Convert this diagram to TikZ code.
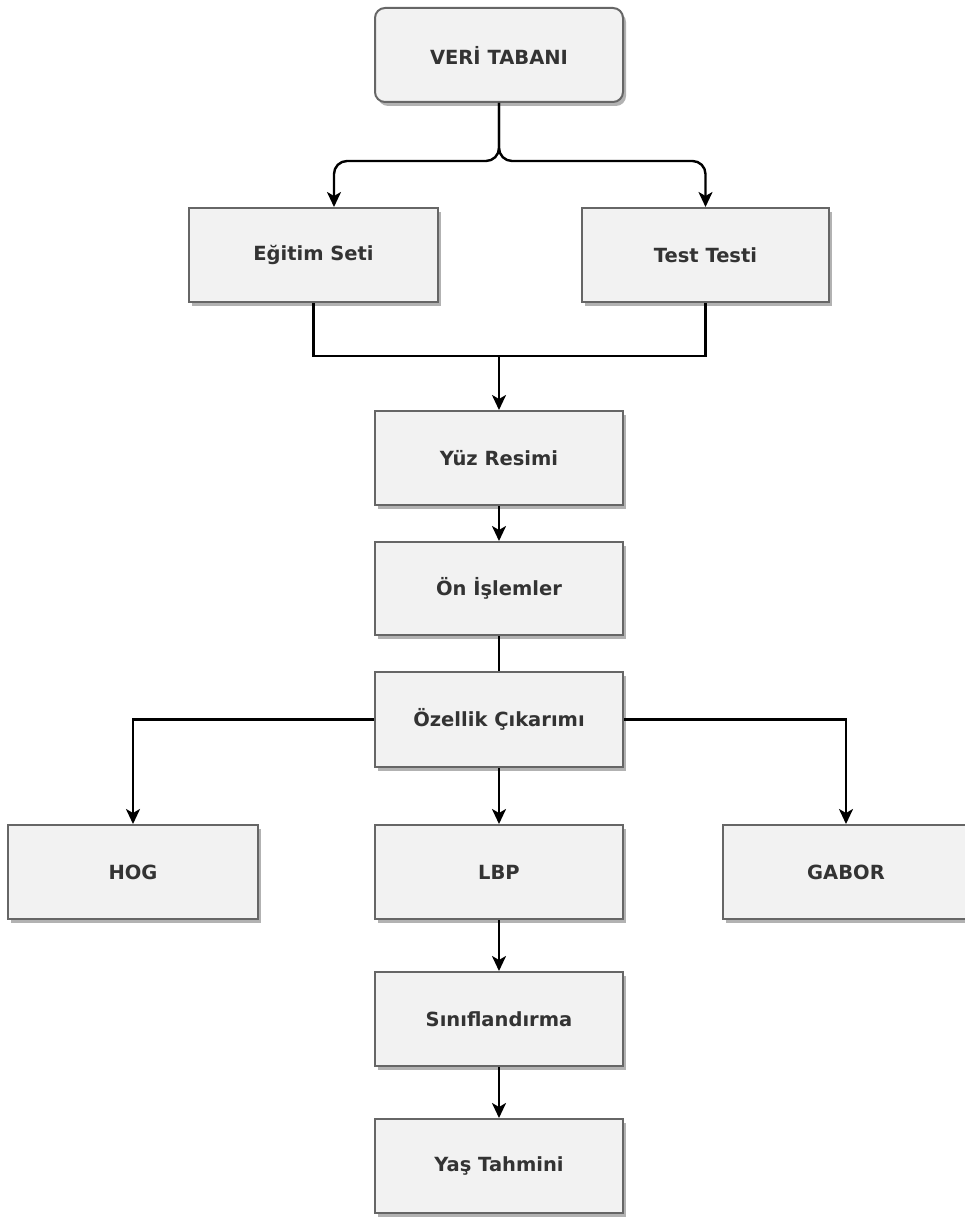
\documentclass[tikz,border=0pt]{standalone}
\usepackage{fontspec}
\setmainfont{DejaVu Sans}
\usetikzlibrary{arrows.meta,shadows}
\definecolor{boxfill}{HTML}{F2F2F2}
\definecolor{boxline}{HTML}{666666}
\definecolor{txt}{HTML}{333333}
\tikzset{
  stagebox/.style={draw=boxline, line width=2pt, fill=boxfill, minimum width=248pt,
    minimum height=94pt, inner sep=0pt, text=txt,
    font=\fontsize{19.5}{22}\selectfont\bfseries,
    drop shadow={shadow xshift=3pt, shadow yshift=-4pt, fill=black, opacity=0.3}},
  conn/.style={draw=black, line width=2.4pt},
  arr/.style={conn, -{Stealth[length=15pt,width=14pt,inset=4pt]}}
}
\begin{document}
\begin{tikzpicture}[x=1pt,y=1pt]
\useasboundingbox (0,0) rectangle (964,-1217);
\node[stagebox, rounded corners=10pt] (v) at (499,-55) {VERİ TABANI};
\node[stagebox, minimum width=249pt] (e) at (313.5,-255) {Eğitim Seti};
\node[stagebox, minimum width=247pt] (t) at (705.5,-255) {Test Testi};
\node[stagebox] (y) at (499,-458) {Yüz Resimi};
\node[stagebox, minimum height=93pt] (o) at (499,-588.5) {Ön İşlemler};
\node[stagebox, minimum height=95pt] (oz) at (499,-719.5) {Özellik Çıkarımı};
\node[stagebox, minimum width=250pt] (hog) at (133,-872) {HOG};
\node[stagebox] (lbp) at (499,-872) {LBP};
\node[stagebox, minimum width=246pt] (gab) at (846,-872) {GABOR};
\node[stagebox] (s) at (499,-1019) {Sınıflandırma};
\node[stagebox] (ya) at (499,-1166) {Yaş Tahmini};
\coordinate (j1) at (499,-355);
% top split
\draw[arr, rounded corners=13pt] (v.south) -- ++(0,-58) -| ([xshift=20.5pt]e.north);
\draw[arr, rounded corners=13pt] (v.south) -- ++(0,-58) -| (t.north);
% merge
\draw[conn] (e.south) -- ++(0,-53) -| (t.south);
\draw[arr] (j1) -- (y.north);
\draw[arr] (y.south) -- (o.north);
\draw[conn] (o.south) -- (oz.north);
\draw[arr] (oz.west) -| (hog.north);
\draw[arr] (oz.east) -| (gab.north);
\draw[arr] (oz.south) -- (lbp.north);
\draw[arr] (lbp.south) -- (s.north);
\draw[arr] (s.south) -- (ya.north);
\end{tikzpicture}
\end{document}
